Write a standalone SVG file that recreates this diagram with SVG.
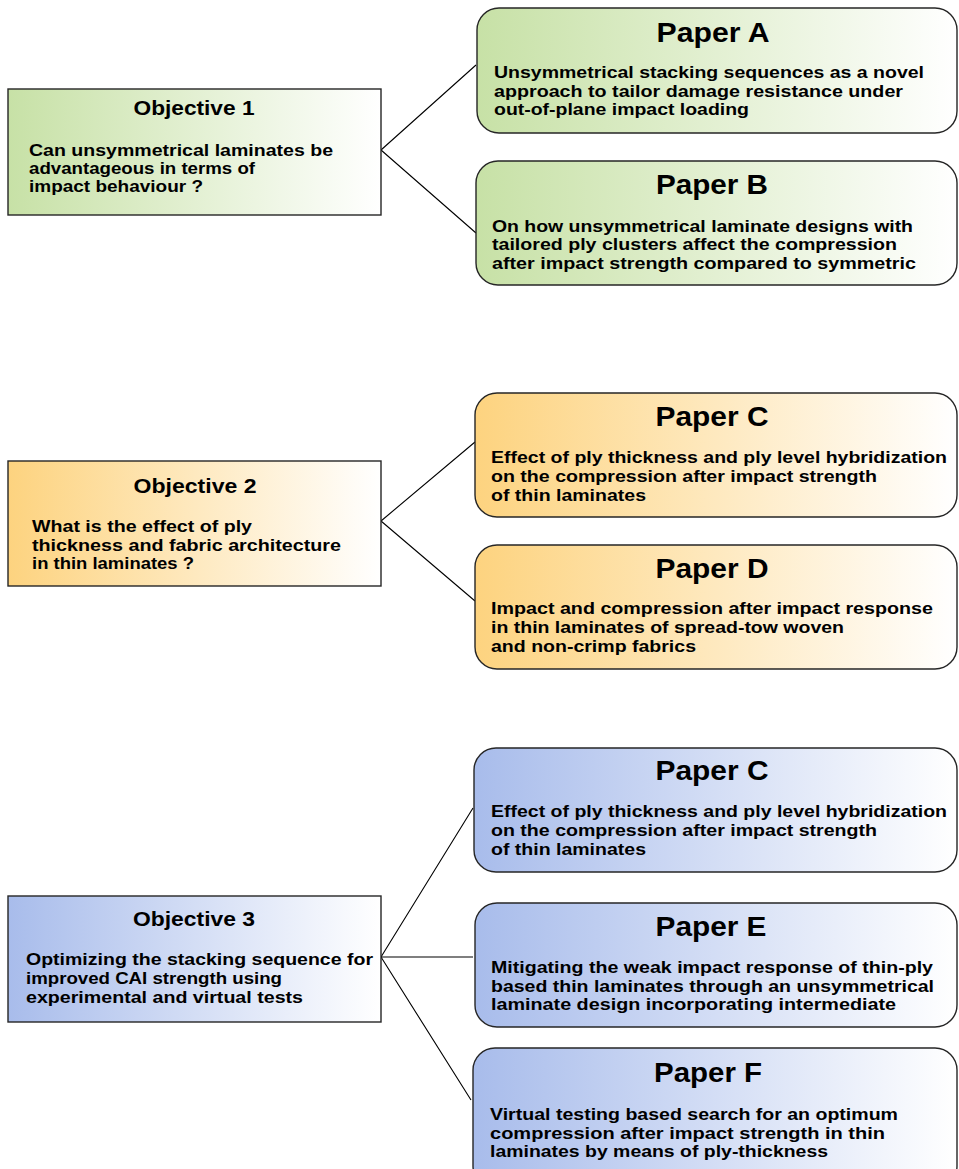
<svg xmlns="http://www.w3.org/2000/svg" width="959" height="1169" viewBox="0 0 959 1169">
<style>
.box{stroke:#262626;stroke-width:1.4}
.ttl{font-family:"Liberation Sans",Arial,sans-serif;font-weight:bold;font-size:28px;fill:#000;text-anchor:middle}
.ot{font-family:"Liberation Sans",Arial,sans-serif;font-weight:bold;font-size:21px;fill:#000;text-anchor:middle}
.bd{font-family:"Liberation Sans",Arial,sans-serif;font-weight:bold;font-size:17px;fill:#000}
.con{stroke:#000;stroke-width:1.1;fill:none}
</style>
<defs>
<linearGradient id="gG" x1="0" y1="0" x2="1" y2="0"><stop offset="0" stop-color="#c7e1a6"/><stop offset="1" stop-color="#ffffff"/></linearGradient>
<linearGradient id="gO" x1="0" y1="0" x2="1" y2="0"><stop offset="0" stop-color="#fdd37f"/><stop offset="1" stop-color="#ffffff"/></linearGradient>
<linearGradient id="gB" x1="0" y1="0" x2="1" y2="0"><stop offset="0" stop-color="#a8bceb"/><stop offset="1" stop-color="#ffffff"/></linearGradient>
</defs>
<rect width="959" height="1169" fill="#ffffff"/>

<g id="connectors">
<path class="con" d="M381,150 L476,65 M381,150 L476,233"/>
<path class="con" d="M381,521 L475,442 M381,521 L475,601"/>
<path class="con" d="M381,957 L473,808 M381,957 L473,957 M381,957 L471,1100"/>
</g>

<g id="objective1">
<rect class="box" x="8" y="89" width="373" height="126" fill="url(#gG)"/>
<text class="ot" x="194" y="115" textLength="121" lengthAdjust="spacingAndGlyphs">Objective 1</text>
<text class="bd" x="29" y="156" textLength="304" lengthAdjust="spacingAndGlyphs">Can unsymmetrical laminates be</text>
<text class="bd" x="29" y="174" textLength="226" lengthAdjust="spacingAndGlyphs">advantageous in terms of</text>
<text class="bd" x="29" y="192" textLength="174" lengthAdjust="spacingAndGlyphs">impact behaviour ?</text>
</g>

<g id="paperA">
<rect class="box" x="477" y="8" width="480" height="125" rx="22" fill="url(#gG)"/>
<text class="ttl" x="713" y="42" textLength="113" lengthAdjust="spacingAndGlyphs">Paper A</text>
<text class="bd" x="494" y="78" textLength="430" lengthAdjust="spacingAndGlyphs">Unsymmetrical stacking sequences as a novel</text>
<text class="bd" x="494" y="97" textLength="409" lengthAdjust="spacingAndGlyphs">approach to tailor damage resistance under</text>
<text class="bd" x="494" y="115" textLength="255" lengthAdjust="spacingAndGlyphs">out-of-plane impact loading</text>
</g>

<g id="paperB">
<rect class="box" x="476" y="161" width="481" height="124" rx="22" fill="url(#gG)"/>
<text class="ttl" x="712" y="194" textLength="112" lengthAdjust="spacingAndGlyphs">Paper B</text>
<text class="bd" x="492" y="232" textLength="421" lengthAdjust="spacingAndGlyphs">On how unsymmetrical laminate designs with</text>
<text class="bd" x="492" y="250" textLength="405" lengthAdjust="spacingAndGlyphs">tailored ply clusters affect the compression</text>
<text class="bd" x="492" y="269" textLength="424" lengthAdjust="spacingAndGlyphs">after impact strength compared to symmetric</text>
</g>

<g id="objective2">
<rect class="box" x="8" y="461" width="373" height="125" fill="url(#gO)"/>
<text class="ot" x="195" y="493" textLength="123" lengthAdjust="spacingAndGlyphs">Objective 2</text>
<text class="bd" x="32" y="532" textLength="220" lengthAdjust="spacingAndGlyphs">What is the effect of ply</text>
<text class="bd" x="32" y="551" textLength="309" lengthAdjust="spacingAndGlyphs">thickness and fabric architecture</text>
<text class="bd" x="32" y="569" textLength="162" lengthAdjust="spacingAndGlyphs">in thin laminates ?</text>
</g>

<g id="paperC1">
<rect class="box" x="475" y="393" width="482" height="124" rx="22" fill="url(#gO)"/>
<text class="ttl" x="712" y="426" textLength="113" lengthAdjust="spacingAndGlyphs">Paper C</text>
<text class="bd" x="491" y="463" textLength="456" lengthAdjust="spacingAndGlyphs">Effect of ply thickness and ply level hybridization</text>
<text class="bd" x="491" y="482" textLength="386" lengthAdjust="spacingAndGlyphs">on the compression after impact strength</text>
<text class="bd" x="491" y="501" textLength="155" lengthAdjust="spacingAndGlyphs">of thin laminates</text>
</g>

<g id="paperD">
<rect class="box" x="475" y="545" width="482" height="124" rx="22" fill="url(#gO)"/>
<text class="ttl" x="712" y="578" textLength="113" lengthAdjust="spacingAndGlyphs">Paper D</text>
<text class="bd" x="491" y="614" textLength="442" lengthAdjust="spacingAndGlyphs">Impact and compression after impact response</text>
<text class="bd" x="491" y="633" textLength="353" lengthAdjust="spacingAndGlyphs">in thin laminates of spread-tow woven</text>
<text class="bd" x="491" y="652" textLength="205" lengthAdjust="spacingAndGlyphs">and non-crimp fabrics</text>
</g>

<g id="objective3">
<rect class="box" x="8" y="896" width="373" height="126" fill="url(#gB)"/>
<text class="ot" x="194" y="926" textLength="122" lengthAdjust="spacingAndGlyphs">Objective 3</text>
<text class="bd" x="26" y="965" textLength="347" lengthAdjust="spacingAndGlyphs">Optimizing the stacking sequence for</text>
<text class="bd" x="26" y="984" textLength="256" lengthAdjust="spacingAndGlyphs">improved CAI strength using</text>
<text class="bd" x="26" y="1003" textLength="277" lengthAdjust="spacingAndGlyphs">experimental and virtual tests</text>
</g>

<g id="paperC2">
<rect class="box" x="474" y="748" width="483" height="124" rx="22" fill="url(#gB)"/>
<text class="ttl" x="712" y="780" textLength="113" lengthAdjust="spacingAndGlyphs">Paper C</text>
<text class="bd" x="491" y="817" textLength="456" lengthAdjust="spacingAndGlyphs">Effect of ply thickness and ply level hybridization</text>
<text class="bd" x="491" y="836" textLength="386" lengthAdjust="spacingAndGlyphs">on the compression after impact strength</text>
<text class="bd" x="491" y="855" textLength="155" lengthAdjust="spacingAndGlyphs">of thin laminates</text>
</g>

<g id="paperE">
<rect class="box" x="475" y="903" width="482" height="124" rx="22" fill="url(#gB)"/>
<text class="ttl" x="711" y="936" textLength="111" lengthAdjust="spacingAndGlyphs">Paper E</text>
<text class="bd" x="491" y="973" textLength="442" lengthAdjust="spacingAndGlyphs">Mitigating the weak impact response of thin-ply</text>
<text class="bd" x="491" y="992" textLength="443" lengthAdjust="spacingAndGlyphs">based thin laminates through an unsymmetrical</text>
<text class="bd" x="491" y="1010" textLength="405" lengthAdjust="spacingAndGlyphs">laminate design incorporating intermediate</text>
</g>

<g id="paperF">
<rect class="box" x="473" y="1048" width="484" height="140" rx="22" fill="url(#gB)"/>
<text class="ttl" x="708" y="1082" textLength="108" lengthAdjust="spacingAndGlyphs">Paper F</text>
<text class="bd" x="490" y="1120" textLength="408" lengthAdjust="spacingAndGlyphs">Virtual testing based search for an optimum</text>
<text class="bd" x="490" y="1139" textLength="395" lengthAdjust="spacingAndGlyphs">compression after impact strength in thin</text>
<text class="bd" x="490" y="1157" textLength="338" lengthAdjust="spacingAndGlyphs">laminates by means of ply-thickness</text>
</g>
</svg>
